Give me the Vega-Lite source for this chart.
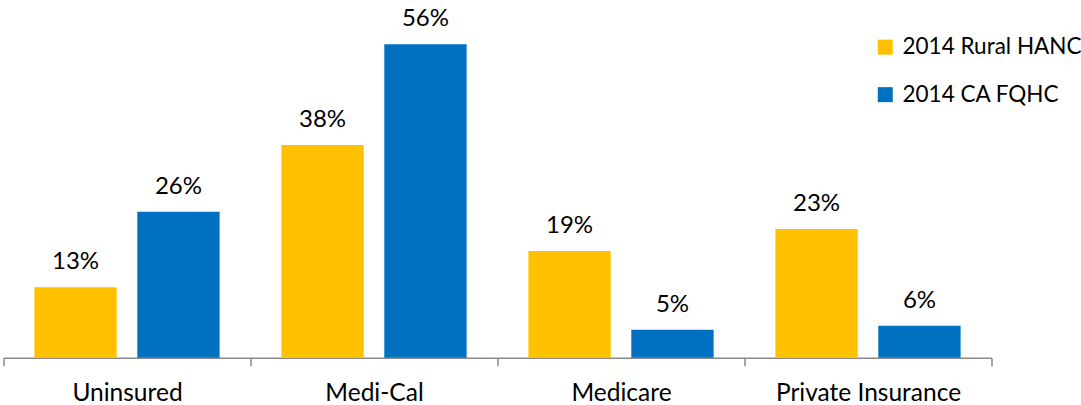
{
  "$schema": "https://vega.github.io/schema/vega-lite/v6.json",
  "width": 988,
  "height": 335.8,
  "autosize": {"type": "none"},
  "padding": {"left": 3.5, "top": 21.9, "right": 89.5, "bottom": 47.3},
  "config": {"view": {"stroke": null}, "font": "Lato"},
  "data": {
    "values": [
      {"category": "Uninsured", "series": "2014 Rural HANC", "value": 0.126},
      {"category": "Uninsured", "series": "2014 CA FQHC", "value": 0.261},
      {"category": "Medi-Cal", "series": "2014 Rural HANC", "value": 0.38},
      {"category": "Medi-Cal", "series": "2014 CA FQHC", "value": 0.56},
      {"category": "Medicare", "series": "2014 Rural HANC", "value": 0.1906},
      {"category": "Medicare", "series": "2014 CA FQHC", "value": 0.05},
      {"category": "Private Insurance", "series": "2014 Rural HANC", "value": 0.23},
      {"category": "Private Insurance", "series": "2014 CA FQHC", "value": 0.057}
    ]
  },
  "encoding": {
    "x": {
      "field": "category",
      "type": "nominal",
      "sort": ["Uninsured", "Medi-Cal", "Medicare", "Private Insurance"],
      "scale": {"paddingInner": 0, "paddingOuter": 0},
      "axis": {
        "title": null,
        "labelAngle": 0,
        "tickBand": "extent",
        "tickSize": 8,
        "tickColor": "#898989",
        "tickWidth": 1.5,
        "domainColor": "#898989",
        "domainWidth": 1.5,
        "labelFontSize": 24.5,
        "labelColor": "#000000",
        "labelBaseline": "top",
        "labelPadding": 16,
        "labelLimit": 400,
        "labelFont": "Lato"
      }
    },
    "xOffset": {
      "field": "series",
      "type": "nominal",
      "sort": ["2014 Rural HANC", "2014 CA FQHC"],
      "scale": {"paddingInner": 0.2, "paddingOuter": 0.3}
    },
    "y": {
      "field": "value",
      "type": "quantitative",
      "scale": {"domain": [0, 0.6]},
      "axis": null
    }
  },
  "layer": [
    {
      "mark": {"type": "bar"},
      "encoding": {
        "color": {
          "field": "series",
          "type": "nominal",
          "sort": ["2014 Rural HANC", "2014 CA FQHC"],
          "scale": {"domain": ["2014 Rural HANC", "2014 CA FQHC"], "range": ["#FFC000", "#0070C0"]},
          "legend": {
            "title": null,
            "orient": "none",
            "legendX": 870.5,
            "legendY": 14,
            "padding": 0,
            "symbolType": "square",
            "symbolSize": 225,
            "symbolStrokeWidth": 0,
            "symbolOpacity": 1,
            "labelFontSize": 22.5,
            "labelFont": "Lato",
            "labelColor": "#000000",
            "labelOffset": 6,
            "rowPadding": 24.5,
            "labelLimit": 300
          }
        }
      }
    },
    {
      "mark": {"type": "text", "baseline": "alphabetic", "dy": -18, "fontSize": 24, "color": "#000000", "font": "Lato"},
      "encoding": {
        "text": {"field": "value", "type": "quantitative", "format": ".0%"}
      }
    }
  ]
}
